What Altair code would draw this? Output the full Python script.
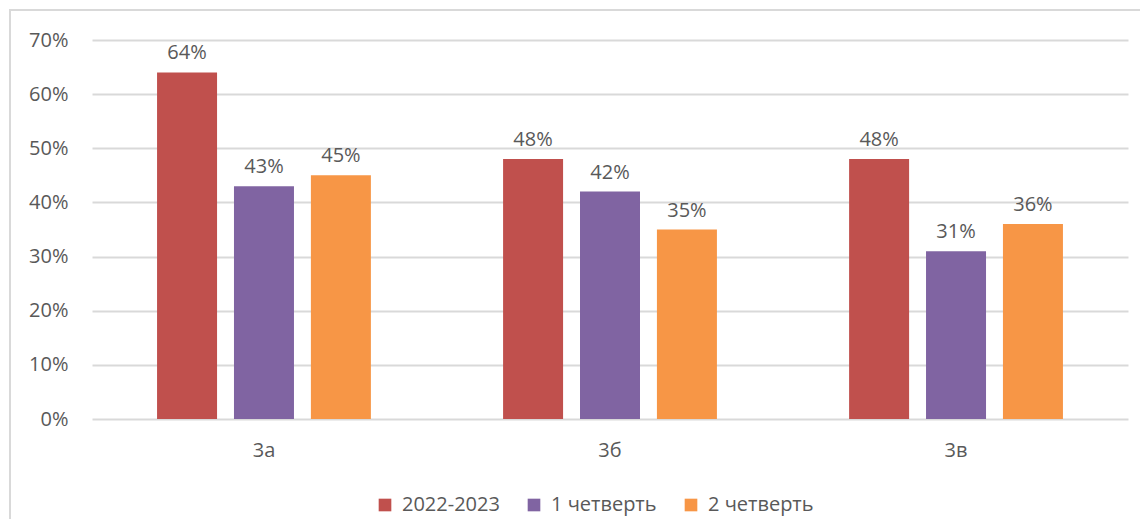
import altair as alt
import pandas as pd

classes = ["3а", "3б", "3в"]
series = ["2022-2023", "1 четверть", "2 четверть"]
v_2022 = [0.64, 0.48, 0.48]
v_q1 = [0.43, 0.42, 0.31]
v_q2 = [0.45, 0.35, 0.36]
colors = ["#C0504D", "#8064A2", "#F79646"]

rows = []
for i, c in enumerate(classes):
    for s, vals in zip(series, [v_2022, v_q1, v_q2]):
        rows.append({"class": c, "series": s, "value": vals[i]})
df = pd.DataFrame(rows)

FONT = "Open Sans"
GRAY = "#595959"
FS = 20

base = alt.Chart(df).encode(
    x=alt.X("class:N", sort=classes,
            scale=alt.Scale(paddingInner=0.382, paddingOuter=0.188),
            axis=alt.Axis(title=None, labelAngle=0, ticks=False, domain=False,
                          labelPadding=21, labelFontSize=FS, labelColor=GRAY,
                          labelFont=FONT)),
    xOffset=alt.XOffset("series:N", sort=series,
                        scale=alt.Scale(paddingInner=0.22, paddingOuter=0)),
)

bars = base.mark_bar().encode(
    y=alt.Y("value:Q", scale=alt.Scale(domain=[0, 0.7]),
            axis=alt.Axis(title=None, format=".0%", values=[0, .1, .2, .3, .4, .5, .6, .7],
                          ticks=False, domain=False, labelPadding=24,
                          labelFontSize=FS, labelColor=GRAY, labelFont=FONT,
                          gridColor="#D9D9D9", gridWidth=2)),
    color=alt.Color("series:N", sort=series,
                    scale=alt.Scale(domain=series, range=colors),
                    legend=alt.Legend(title=None, orient="none", direction="horizontal",
                                      legendX=283, legendY=455,
                                      symbolType="square", symbolSize=160,
                                      symbolStrokeWidth=0,
                                      labelFontSize=FS, labelColor=GRAY, labelFont=FONT,
                                      labelOffset=7, columnPadding=24)),
)

labels = base.mark_text(baseline="bottom", dy=-9, fontSize=FS, color=GRAY, font=FONT).encode(
    y=alt.Y("value:Q"),
    text=alt.Text("value:Q", format=".0%"),
)

frame = alt.Chart(df).mark_rect(fill=None, stroke="#D9D9D9", strokeWidth=2).encode(
    x=alt.value(-82), x2=alt.value(1052), y=alt.value(-30), y2=alt.value(520)
)

chart = alt.layer(frame, bars, labels).properties(
    width=1036, height=379,
    autosize=alt.AutoSizeParams(type="none"),
    padding={"left": 84, "top": 32, "right": 12, "bottom": 100},
).configure_view(stroke=None)

chart.save("out.html", embed_options={"renderer": "svg", "actions": False})
